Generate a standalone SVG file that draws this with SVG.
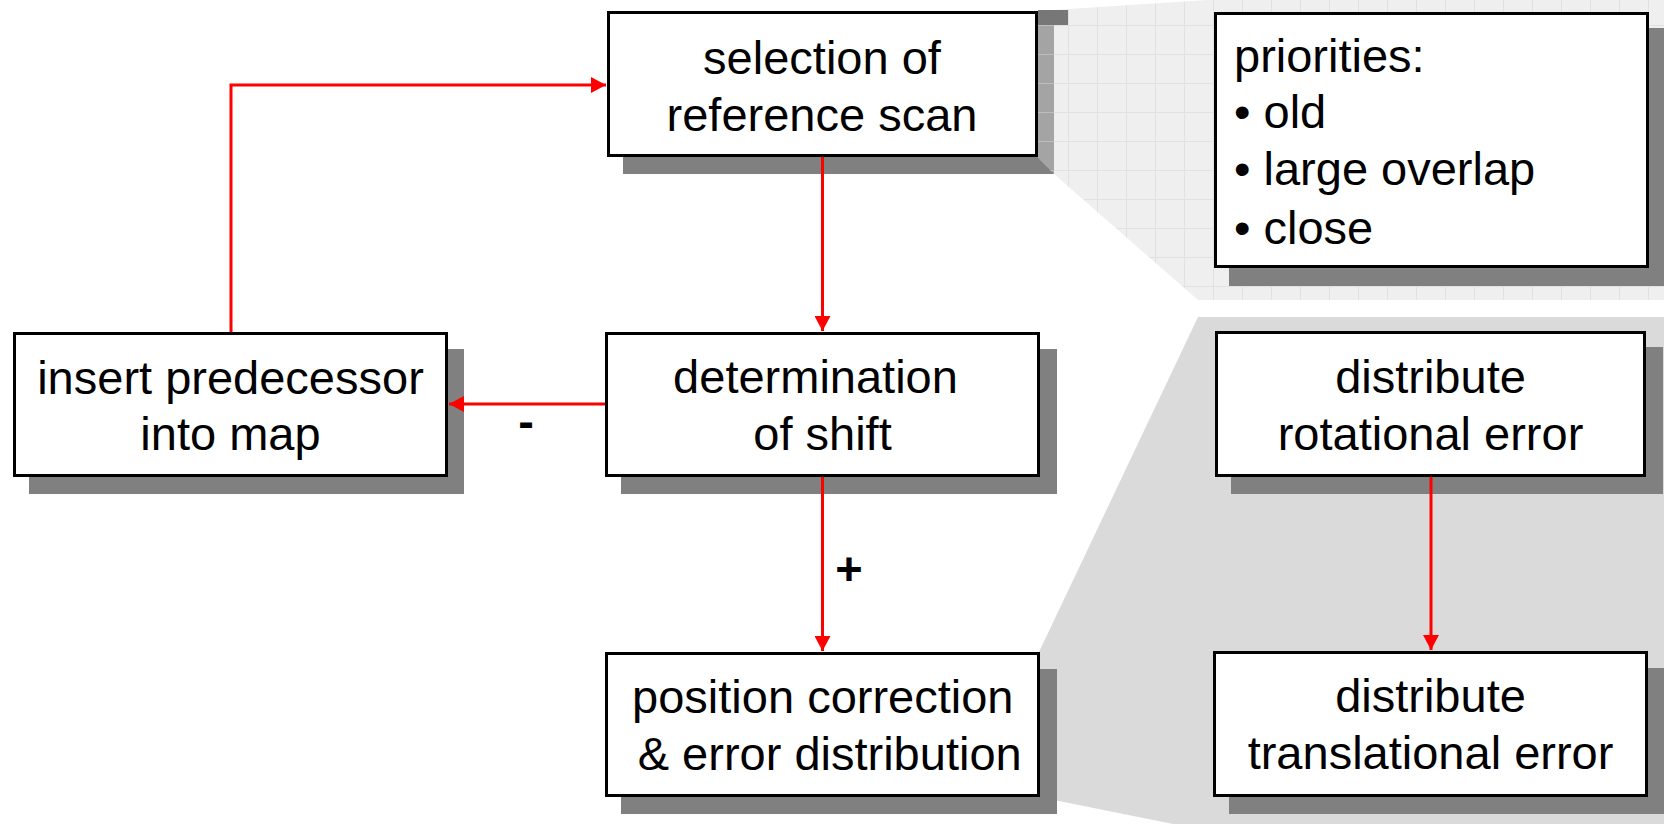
<svg xmlns="http://www.w3.org/2000/svg" width="1664" height="824" viewBox="0 0 1664 824">
<style>
.box{fill:#ffffff;stroke:#000000;stroke-width:3}
.shadow{fill:#808080}
.t{font-family:"Liberation Sans",Arial,Helvetica,sans-serif;font-size:47px;fill:#000000}
.c{text-anchor:middle}
.lbl{font-weight:bold}
.conn{fill:none;stroke:#ff0000;stroke-width:3}
</style>
<defs>
<pattern id="grid" patternUnits="userSpaceOnUse" x="24" y="25" width="29" height="29">
<rect width="29" height="29" fill="#efefef"/>
<path d="M0.5,0 V29 M0,0.5 H29" stroke="#e1e1e1" stroke-width="1"/>
</pattern>
<pattern id="gridDark" patternUnits="userSpaceOnUse" x="24" y="25" width="29" height="29">
<rect width="29" height="29" fill="#a4a4a4"/>
<path d="M0,0.5 H29" stroke="#bdbdbd" stroke-width="1"/>
</pattern>
<marker id="arr" markerUnits="userSpaceOnUse" markerWidth="15" markerHeight="16" refX="15" refY="8" orient="auto">
<path d="M0,0 L15,8 L0,16 z" fill="#ff0000"/>
</marker>
</defs>
<rect width="1664" height="824" fill="#ffffff"/>

<g id="panels">
<polygon points="1038,11 1207,0 1664,0 1664,300 1198,300 1054,174 1038,160" fill="url(#grid)"/>
<polygon points="1198,317 1664,317 1664,824 1173,824 1039,797 1039,652" fill="#dadada"/>
</g>

<g id="node-selection">
<rect class="shadow" x="623" y="28" width="431" height="146"/>
<polygon points="1038,25 1054,25 1054,174 1038,158" fill="url(#gridDark)"/>
<rect x="1038" y="10" width="30" height="15" fill="#777777"/>
<rect class="box" x="608.5" y="12.5" width="428" height="143"/>
<text class="t c" x="822" y="74">selection of</text>
<text class="t c" x="822" y="131">reference scan</text>
</g>

<g id="node-priorities">
<rect class="shadow" x="1229" y="28" width="435" height="258"/>
<rect class="box" x="1215.5" y="13.5" width="432" height="253"/>
<text class="t" x="1234" y="72">priorities:</text>
<text class="t" x="1234" y="128">• old</text>
<text class="t" x="1234" y="185">• large overlap</text>
<text class="t" x="1234" y="244">• close</text>
</g>

<g id="node-insert">
<rect class="shadow" x="29" y="349" width="435" height="145"/>
<rect class="box" x="14.5" y="333.5" width="432" height="142"/>
<text class="t c" x="230.5" y="394">insert predecessor</text>
<text class="t c" x="230.5" y="450">into map</text>
</g>

<g id="node-determination">
<rect class="shadow" x="621" y="349" width="436" height="145"/>
<rect class="box" x="606.5" y="333.5" width="432" height="142"/>
<text class="t c" x="815.5" y="393">determination</text>
<text class="t c" x="822.5" y="450">of shift</text>
</g>

<g id="node-position">
<rect class="shadow" x="621" y="669" width="436" height="145"/>
<rect class="box" x="606.5" y="653.5" width="432" height="142"/>
<text class="t c" x="822.8" y="713">position correction</text>
<text class="t c" x="829.7" y="770">&amp; error distribution</text>
</g>

<g id="node-rotational">
<rect class="shadow" x="1231" y="347" width="432" height="147"/>
<rect class="box" x="1216.5" y="332.5" width="428" height="143"/>
<text class="t c" x="1430.5" y="393">distribute</text>
<text class="t c" x="1430.5" y="450">rotational error</text>
</g>

<g id="node-translational">
<rect class="shadow" x="1229" y="668" width="435" height="146"/>
<rect class="box" x="1214.5" y="652.5" width="432" height="143"/>
<text class="t c" x="1430.5" y="712">distribute</text>
<text class="t c" x="1430.5" y="769">translational error</text>
</g>

<g id="connectors">
<path class="conn" d="M822.5,157 V331" marker-end="url(#arr)"/>
<path class="conn" d="M605,404 H449" marker-end="url(#arr)"/>
<path class="conn" d="M231,332 V85 H606" marker-end="url(#arr)"/>
<path class="conn" d="M822.5,477 V651" marker-end="url(#arr)"/>
<path class="conn" d="M1431,477 V650" marker-end="url(#arr)"/>
<text class="t c lbl" x="526" y="437">-</text>
<text class="t c lbl" x="849" y="585">+</text>
</g>
</svg>
